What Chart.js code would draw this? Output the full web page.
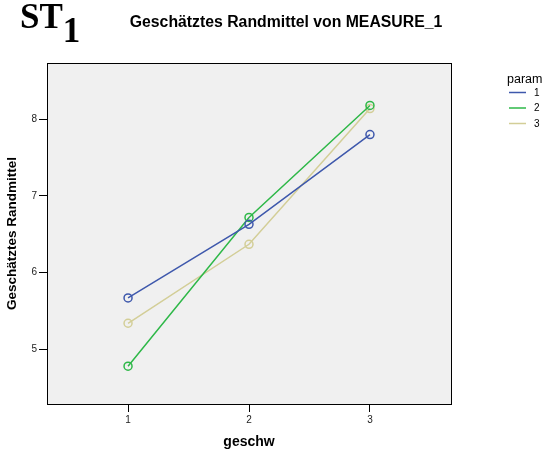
<!DOCTYPE html>
<html>
<head>
<meta charset="utf-8">
<script src="https://cdn.jsdelivr.net/npm/chart.js@4"></script>
<style>
  body { margin: 0; background: #ffffff; }
  #wrap { width: 558px; height: 454px; position: relative; }
</style>
</head>
<body>
<div id="wrap"><canvas id="chart"></canvas></div>
<script>
// Estimated marginal means of MEASURE_1 per speed level, one line per param group
const geschw = [1, 2, 3];
const paramLabels = ['1', '2', '3'];
const param1 = [5.67, 6.63, 7.80];
const param2 = [4.78, 6.72, 8.18];
const param3 = [5.34, 6.37, 8.14];
const yTicks = [5, 6, 7, 8];

const seriesColors = ['#3e58ac', '#2eb848', '#d3ce97'];
const series = [param1, param2, param3];

// Plot frame, grey fill behind and black box around the data area
const frame = {
    id: 'frame',
    beforeDatasetsDraw(chart) {
        const { ctx, chartArea: a } = chart;
        ctx.save();
        ctx.fillStyle = '#f0f0f0';
        ctx.fillRect(a.left, a.top, a.right - a.left, a.bottom - a.top);
        ctx.restore();
    },
    afterDatasetsDraw(chart) {
        const { ctx, chartArea: a } = chart;
        ctx.save();
        ctx.strokeStyle = '#000';
        ctx.lineWidth = 1;
        ctx.strokeRect(Math.round(a.left) + 0.5, Math.round(a.top) + 0.5,
            Math.round(a.right - a.left), Math.round(a.bottom - a.top));
        ctx.restore();
    }
};

// Header: "ST1" tag and the chart heading
const header = {
    id: 'header',
    afterDraw(chart) {
        const ctx = chart.ctx;
        ctx.save();
        ctx.fillStyle = '#000';
        ctx.textBaseline = 'alphabetic';
        ctx.font = 'bold 35px "Liberation Serif", "Times New Roman", serif';
        ctx.textAlign = 'left';
        ctx.fillText('ST', 20, 28);
        const w = ctx.measureText('ST').width;
        ctx.fillText('1', 20 + w, 42);

        ctx.font = 'bold 15.8px "Liberation Sans", Arial, sans-serif';
        ctx.textAlign = 'center';
        ctx.fillText('Geschätztes Randmittel von MEASURE_1', 286, 27);
        ctx.restore();
    }
};

// Legend to the right of the plot, built from the datasets
const sideLegend = {
    id: 'sideLegend',
    afterDraw(chart) {
        const ctx = chart.ctx;
        ctx.save();
        ctx.fillStyle = '#000';
        ctx.font = '12.5px "Liberation Sans", Arial, sans-serif';
        ctx.textAlign = 'left';
        ctx.textBaseline = 'alphabetic';
        ctx.fillText('param', 507, 83);
        ctx.font = '10px "Liberation Sans", Arial, sans-serif';
        ctx.textBaseline = 'middle';
        chart.data.datasets.forEach((ds, i) => {
            const y = 92.5 + i * 15.5;
            ctx.strokeStyle = ds.borderColor;
            ctx.lineWidth = 1.5;
            ctx.beginPath();
            ctx.moveTo(509, y);
            ctx.lineTo(526, y);
            ctx.stroke();
            ctx.fillStyle = '#000';
            ctx.fillText(ds.label, 534, y + 0.5);
        });
        ctx.restore();
    }
};

const datasets = series.map((vals, i) => ({
    label: paramLabels[i],
    data: geschw.map((g, j) => ({ x: g, y: vals[j] })),
    borderColor: seriesColors[i],
    borderWidth: 1.5,
    pointBorderColor: seriesColors[i],
    pointBackgroundColor: 'rgba(0,0,0,0)',
    pointBorderWidth: 1.5,
    pointRadius: 4,
    pointStyle: 'circle',
    tension: 0
}));

const tickFont = { family: '"Liberation Sans", Arial, sans-serif', size: 10 };
const titleFont = { family: '"Liberation Sans", Arial, sans-serif', size: 13.5, weight: 'bold', lineHeight: 1.2 };

new Chart(document.getElementById('chart'), {
    type: 'line',
    data: { datasets },
    options: {
        responsive: true,
        maintainAspectRatio: false,
        animation: false,
        layout: { padding: { top: 63, right: 107, left: 0, bottom: 0 } },
        plugins: {
            legend: { display: false },
            tooltip: { enabled: false }
        },
        scales: {
            x: {
                type: 'linear',
                min: 0.33,
                max: 3.67,
                afterBuildTicks: (scale) => { scale.ticks = geschw.map(v => ({ value: v })); },
                afterFit: (scale) => { scale.height = 50; },
                border: { display: false },
                grid: { display: true, drawOnChartArea: false, drawTicks: true, tickLength: 8, color: '#000' },
                ticks: { font: tickFont, color: '#222', padding: 2, maxRotation: 0 },
                title: { display: true, text: 'geschw', font: { ...titleFont, size: 14 }, color: '#000', padding: { top: 0, bottom: 3 } }
            },
            y: {
                min: 4.287,
                max: 8.734,
                afterBuildTicks: (scale) => { scale.ticks = yTicks.map(v => ({ value: v })); },
                afterFit: (scale) => { scale.width = 47; },
                border: { display: false },
                grid: { display: true, drawOnChartArea: false, drawTicks: true, tickLength: 8, color: '#000' },
                ticks: { font: tickFont, color: '#222', padding: 2 },
                title: { display: true, text: 'Geschätztes Randmittel', font: titleFont, color: '#000', padding: { top: 4, bottom: 0 } }
            }
        }
    },
    plugins: [frame, header, sideLegend]
});
</script>
</body>
</html>
